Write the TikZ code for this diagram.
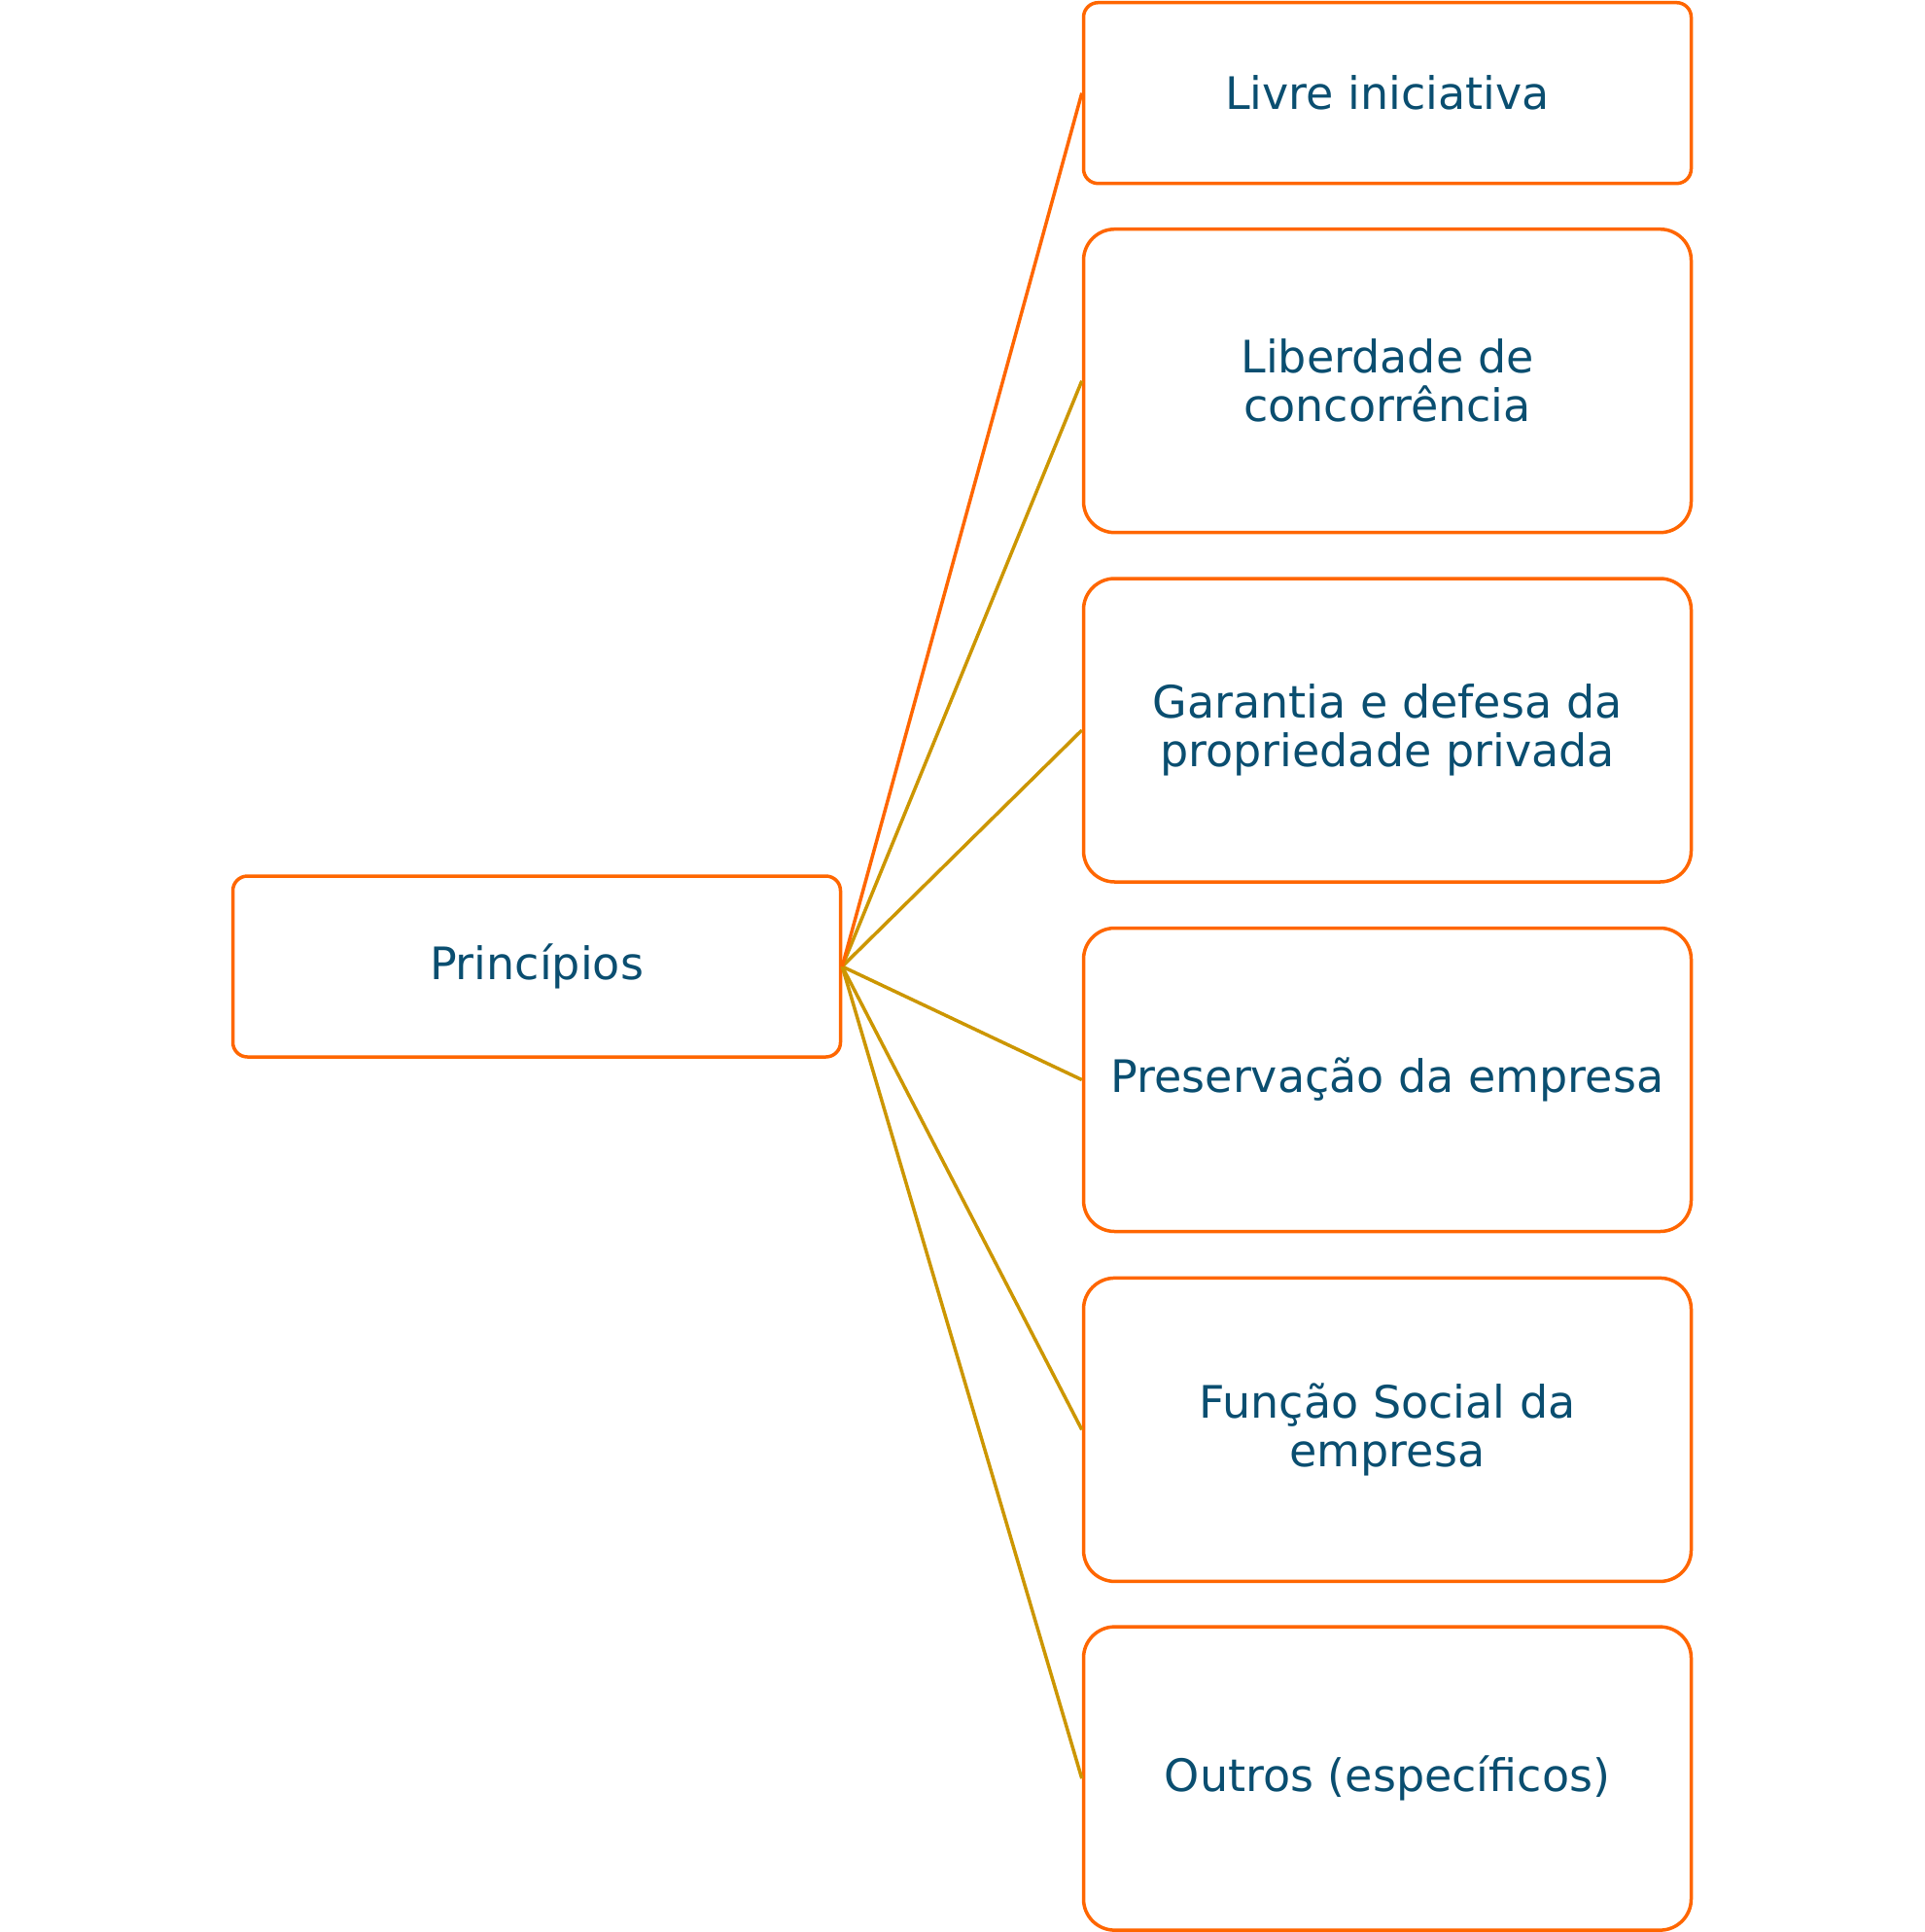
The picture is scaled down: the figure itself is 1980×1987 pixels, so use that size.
\documentclass[tikz,border=0pt]{standalone}
\usepackage{fontspec}
\setmainfont{DejaVu Sans}
\usepackage{tikz}
\usetikzlibrary{positioning}

\definecolor{boxorange}{RGB}{255,102,0}
\definecolor{linkgold}{RGB}{204,150,0}
\definecolor{textblue}{RGB}{10,78,112}

\begin{document}
\begin{tikzpicture}[x=1pt,y=-1pt,line width=3.5pt,
  box/.style={draw=boxorange,rounded corners=15pt,text=textblue,align=center,
    minimum width=625pt,font=\fontsize{46}{50}\selectfont},
  small/.style={box,minimum height=186pt},
  tall/.style={box,rounded corners=32pt,minimum height=312pt},
  link/.style={draw=linkgold}]

\useasboundingbox (0,0) rectangle (1980,1987);

\node [small] (p)  at (552,994)    {Princípios};
\node [small] (l1) at (1427,95.7)  {Livre iniciativa};
\node [tall]  (l2) at (1427,391.7) {Liberdade de\\concorrência};
\node [tall]  (l3) at (1427,751)   {Garantia e defesa da\\propriedade privada};
\node [tall]  (l4) at (1427,1110.5){Preservação da empresa};
\node [tall]  (l5) at (1427,1470.4){Função Social da\\empresa};
\node [tall]  (l6) at (1427,1829.1){Outros (específicos)};

\path (p.east) edge [link] (l2.west)
               edge [link] (l3.west)
               edge [link] (l4.west)
               edge [link] (l5.west)
               edge [link] (l6.west)
               edge [draw=boxorange] (l1.west);

\end{tikzpicture}
\end{document}
